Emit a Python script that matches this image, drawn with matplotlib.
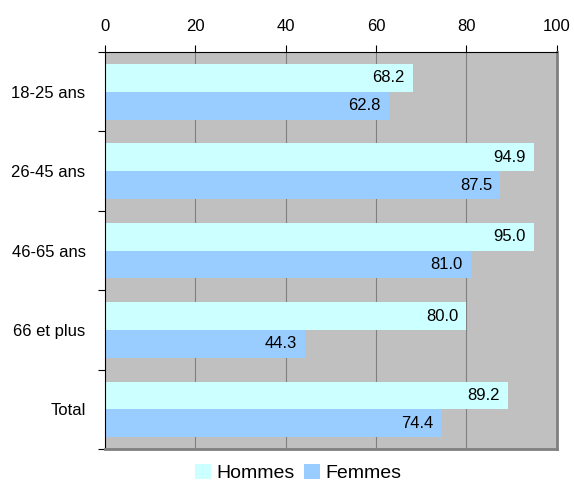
import numpy as np
import matplotlib.pyplot as plt

plt.rcParams['font.family'] = ['Liberation Sans', 'DejaVu Sans']

categories = ['18-25 ans', '26-45 ans', '46-65 ans', '66 et plus', 'Total']
hommes = [68.2, 94.9, 95.0, 80.0, 89.2]
femmes = [62.8, 87.5, 81.0, 44.3, 74.4]
xticks = [0, 20, 40, 60, 80, 100]

fig = plt.figure(figsize=(5.74, 4.86), dpi=100)
ax = fig.add_axes([0.183, 0.076, 0.787, 0.817])
ax.set_facecolor('#C0C0C0')

y = np.arange(len(categories))
h = 0.35
bh = ax.barh(y - h / 2, hommes, height=h, color='#CCFFFF', label='Hommes', zorder=2)
bf = ax.barh(y + h / 2, femmes, height=h, color='#99CCFF', label='Femmes', zorder=2)

for bars, vals in [(bh, hommes), (bf, femmes)]:
    for b, v in zip(bars, vals):
        ax.text(v - 1.8, b.get_y() + b.get_height() / 2, f'{v:.1f}',
                ha='right', va='center', fontsize=12, zorder=3)

ax.set_xlim(0, 100)
ax.set_ylim(len(categories) - 0.5, -0.5)
ax.xaxis.tick_top()
ax.set_xticks(xticks)
ax.tick_params(axis='x', direction='out', length=5, labelsize=12, pad=8)
ax.grid(axis='x', color='#808080', linewidth=0.8, zorder=1)

ax.set_yticks(np.arange(len(categories) + 1) - 0.5)
ax.set_yticklabels([])
ax.set_yticks(y, minor=True)
ax.set_yticklabels(categories, minor=True, fontsize=12)
ax.tick_params(axis='y', which='major', direction='out', length=5)
ax.tick_params(axis='y', which='minor', length=0, pad=14)

ax.spines['top'].set_color('black')
ax.spines['left'].set_color('black')
ax.spines['right'].set_color('#808080')
ax.spines['bottom'].set_color('#808080')
ax.spines['right'].set_linewidth(2)
ax.spines['bottom'].set_linewidth(2)

fig.legend(handles=[bh, bf], loc='lower center', bbox_to_anchor=(0.52, -0.028),
           ncol=2, frameon=False, fontsize=14, handlelength=0.8, handleheight=0.8,
           handletextpad=0.3, columnspacing=0.5)

fig.savefig('out.png', dpi=100)
